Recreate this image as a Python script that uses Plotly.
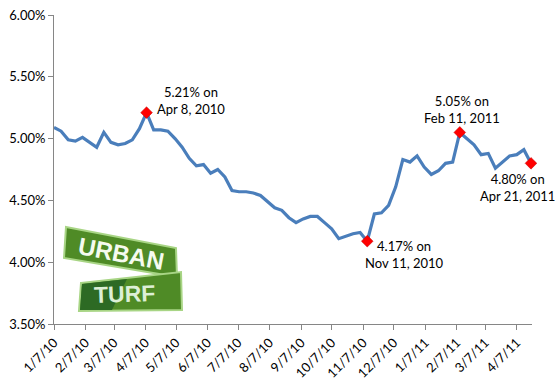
import plotly.graph_objects as go

# ---- data (weekly 30-yr fixed mortgage rates, %) ----
dates = [
    "2010-01-07", "2010-01-14", "2010-01-21", "2010-01-28",
    "2010-02-04", "2010-02-11", "2010-02-18", "2010-02-25",
    "2010-03-04", "2010-03-11", "2010-03-18", "2010-03-25",
    "2010-04-01", "2010-04-08", "2010-04-15", "2010-04-22", "2010-04-29",
    "2010-05-06", "2010-05-13", "2010-05-20", "2010-05-27",
    "2010-06-03", "2010-06-10", "2010-06-17", "2010-06-24",
    "2010-07-01", "2010-07-08", "2010-07-15", "2010-07-22", "2010-07-29",
    "2010-08-05", "2010-08-12", "2010-08-19", "2010-08-26",
    "2010-09-02", "2010-09-09", "2010-09-16", "2010-09-23", "2010-09-30",
    "2010-10-07", "2010-10-14", "2010-10-21", "2010-10-28",
    "2010-11-04", "2010-11-11", "2010-11-18", "2010-11-25",
    "2010-12-02", "2010-12-09", "2010-12-16", "2010-12-23", "2010-12-30",
    "2011-01-06", "2011-01-13", "2011-01-20", "2011-01-27",
    "2011-02-03", "2011-02-10", "2011-02-17", "2011-02-24",
    "2011-03-03", "2011-03-10", "2011-03-17", "2011-03-24", "2011-03-31",
    "2011-04-07", "2011-04-14", "2011-04-21",
]
rates = [
    5.09, 5.06, 4.99, 4.98,
    5.01, 4.97, 4.93, 5.05,
    4.97, 4.95, 4.96, 4.99,
    5.08, 5.21, 5.07, 5.07, 5.06,
    5.00, 4.93, 4.84, 4.78,
    4.79, 4.72, 4.75, 4.69,
    4.58, 4.57, 4.57, 4.56, 4.54,
    4.49, 4.44, 4.42, 4.36,
    4.32, 4.35, 4.37, 4.37, 4.32,
    4.27, 4.19, 4.21, 4.23,
    4.24, 4.17, 4.39, 4.40,
    4.46, 4.61, 4.83, 4.81, 4.86,
    4.77, 4.71, 4.74, 4.80,
    4.81, 5.05, 5.00, 4.95,
    4.87, 4.88, 4.76, 4.81, 4.86,
    4.87, 4.91, 4.80,
]

highlight_dates = ["2010-04-08", "2010-11-11", "2011-02-10", "2011-04-21"]
highlight_labels = ["5.21% on<br>Apr 8, 2010", "4.17% on<br>Nov 11, 2010",
                    "5.05% on<br>Feb 11, 2011", "4.80% on<br>Apr 21, 2011"]
label_offsets = [(44, 12), (37, -13), (2, 23), (-13, -24)]

tick_dates = ["2010-01-07", "2010-02-07", "2010-03-07", "2010-04-07", "2010-05-07",
              "2010-06-07", "2010-07-07", "2010-08-07", "2010-09-07", "2010-10-07",
              "2010-11-07", "2010-12-07", "2011-01-07", "2011-02-07", "2011-03-07",
              "2011-04-07"]
tick_labels = ["1/7/10", "2/7/10", "3/7/10", "4/7/10", "5/7/10", "6/7/10", "7/7/10",
               "8/7/10", "9/7/10", "10/7/10", "11/7/10", "12/7/10", "1/7/11",
               "2/7/11", "3/7/11", "4/7/11"]

y_ticks = [3.5, 4.0, 4.5, 5.0, 5.5, 6.0]
y_tick_labels = ["3.50%", "4.00%", "4.50%", "5.00%", "5.50%", "6.00%"]

FONT = "Lato, Calibri, Carlito, 'Open Sans', sans-serif"
LOGO_FONT = "'Liberation Sans', Arial, sans-serif"

hl_vals = [rates[dates.index(d)] for d in highlight_dates]

fig = go.Figure()
fig.add_trace(go.Scatter(
    x=dates, y=rates, mode="lines",
    line=dict(color="#4A7EBB", width=3.2),
    hoverinfo="skip", showlegend=False,
))
fig.add_trace(go.Scatter(
    x=highlight_dates, y=hl_vals, mode="markers", cliponaxis=False,
    marker=dict(symbol="diamond", size=9, color="#FF0000",
                line=dict(color="#C00000", width=0.5)),
    hoverinfo="skip", showlegend=False,
))

annotations = []
for d, v, t, (dx, dy) in zip(highlight_dates, hl_vals, highlight_labels, label_offsets):
    annotations.append(dict(
        x=d, y=v, xref="x", yref="y", text=t, showarrow=False,
        xshift=dx, yshift=dy, align="center", xanchor="center", yanchor="middle",
        font=dict(family=FONT, size=13, color="#000000"),
    ))

# ---- Urban Turf logo (decoration), drawn in paper coords ----
L, R, T, B = 54, 532, 15, 324
def px(x):
    return (x - L) / (R - L)
def py(y):
    return (B - y) / (B - T)
def path(pts):
    return "M " + " L ".join(f"{px(a):.4f},{py(b):.4f}" for a, b in pts) + " Z"

shapes = [
    dict(type="path", xref="paper", yref="paper",
         path=path([(66, 227), (176, 248), (177, 277), (64, 258)]),
         fillcolor="#4F8B26", line=dict(color="#A8D585", width=2), layer="above"),
    dict(type="path", xref="paper", yref="paper",
         path=path([(81, 283), (181, 272), (182, 310), (79, 311)]),
         fillcolor="#4F8B26", line=dict(color="#A8D585", width=2), layer="above"),
    dict(type="path", xref="paper", yref="paper",
         path=path([(82, 284), (127, 279), (112, 310), (80, 310)]),
         fillcolor="#2D6A24", line=dict(width=0), layer="above"),
]
annotations.append(dict(
    x=px(121), y=py(253), xref="paper", yref="paper", text="<b>URBAN</b>",
    showarrow=False, textangle=11, xanchor="center", yanchor="middle",
    font=dict(family=LOGO_FONT, size=24, color="#F5FBEF"),
))
annotations.append(dict(
    x=px(124), y=py(294), xref="paper", yref="paper", text="<b>TURF</b>",
    showarrow=False, textangle=-2, xanchor="center", yanchor="middle",
    font=dict(family=LOGO_FONT, size=23, color="#DDEFD6"),
))

fig.update_layout(
    width=557, height=384,
    margin=dict(l=L, r=557 - R, t=T, b=384 - B, autoexpand=False),
    paper_bgcolor="white", plot_bgcolor="white",
    showlegend=False,
    hovermode=False,
    annotations=annotations,
    shapes=shapes,
    xaxis=dict(
        type="date", range=["2010-01-07", "2011-04-22"], automargin=False,
        tickvals=tick_dates, ticktext=tick_labels, tickangle=-45,
        showgrid=False, zeroline=False,
        showline=True, linecolor="#868686", linewidth=1,
        ticks="outside", ticklen=5, tickcolor="#868686",
        tickfont=dict(family=FONT, size=13, color="#000000"),
    ),
    yaxis=dict(
        range=[3.5, 6.0], automargin=False,
        tickvals=y_ticks, ticktext=y_tick_labels,
        showgrid=False, zeroline=False,
        showline=True, linecolor="#868686", linewidth=1,
        ticks="outside", ticklen=5, tickcolor="#868686",
        tickfont=dict(family=FONT, size=13, color="#000000"),
    ),
)

fig.write_html("out.html", config={"displayModeBar": False},
               post_script="document.body.style.margin='0';document.body.style.overflow='hidden';")
